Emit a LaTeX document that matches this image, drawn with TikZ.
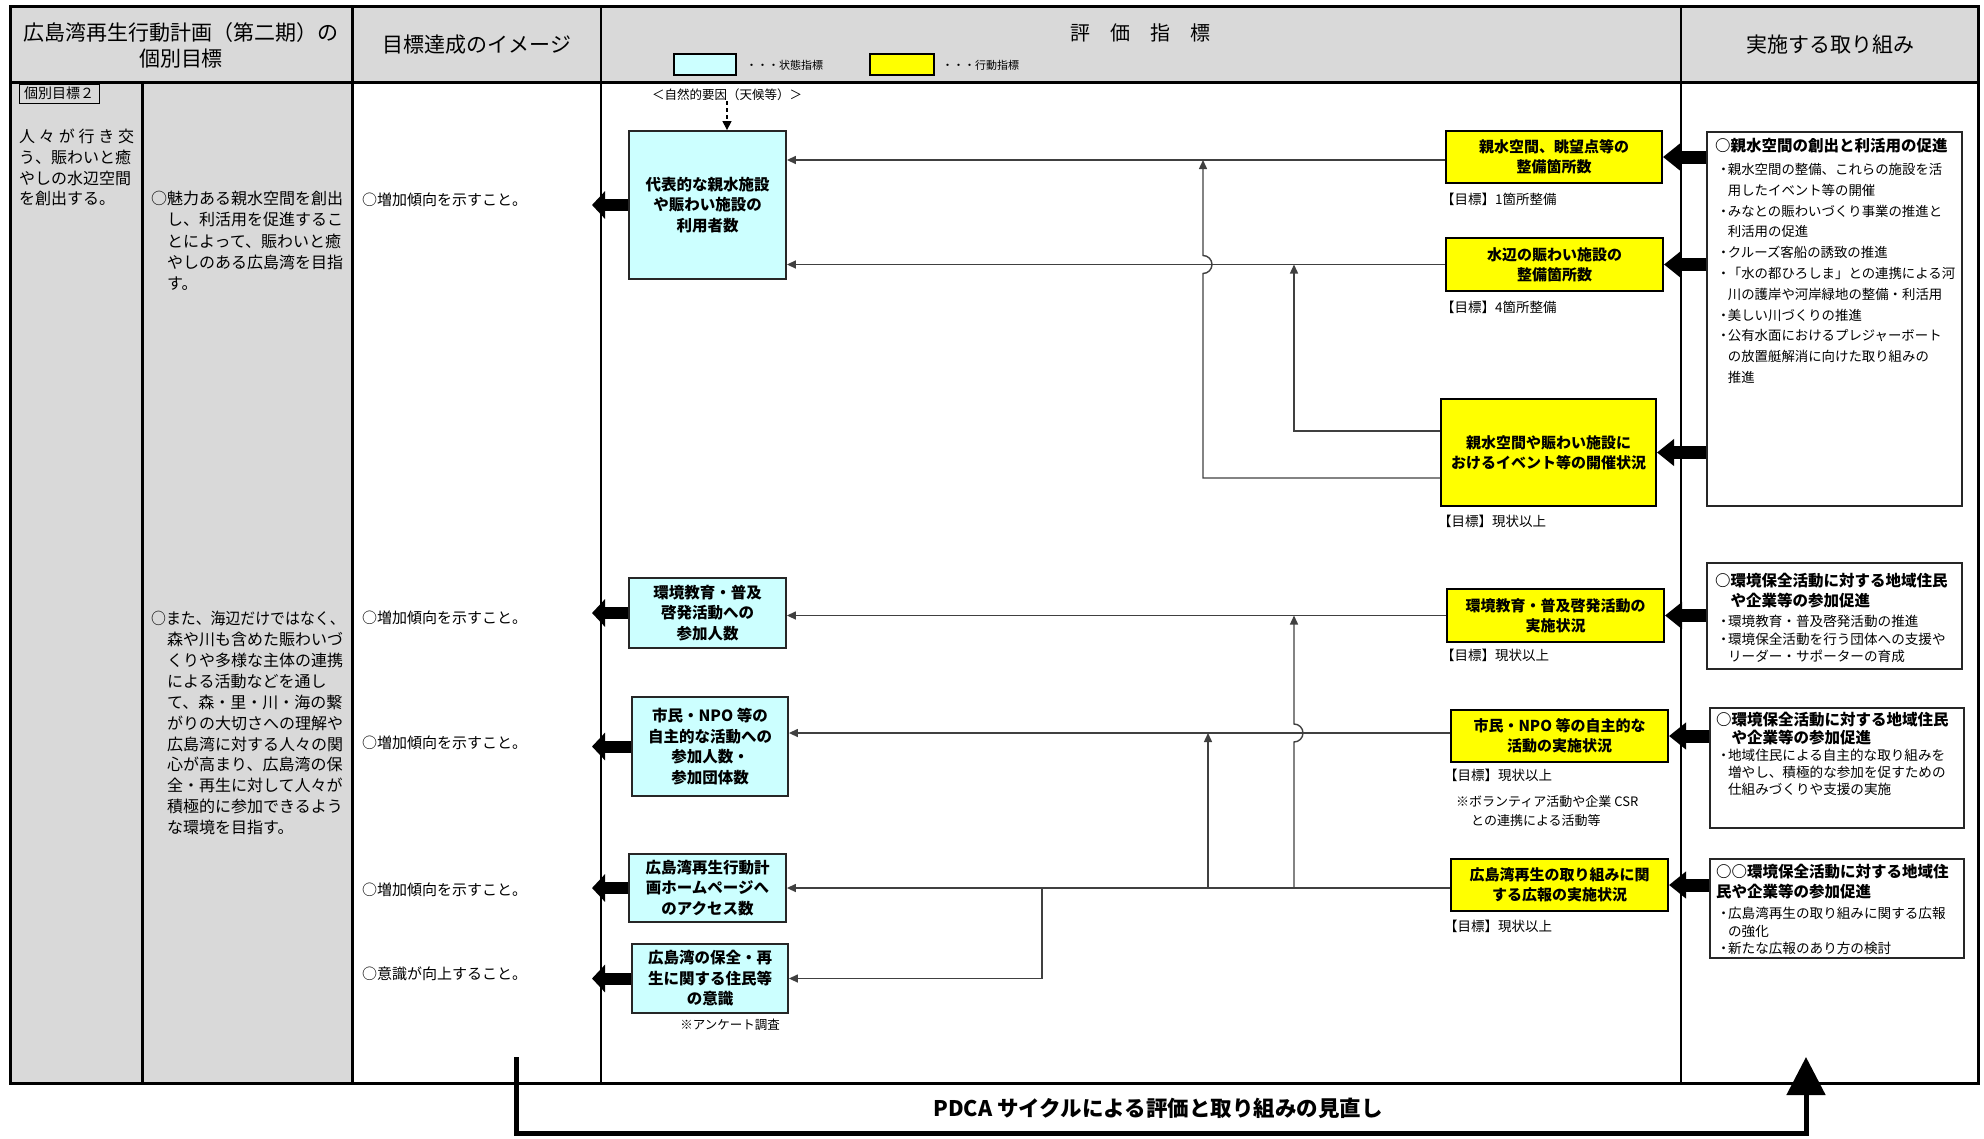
\documentclass[tikz,border=0pt]{standalone}
\usepackage{fontspec}
\usepackage{graphicx}
\setmainfont{Noto Sans CJK JP}
\usetikzlibrary{arrows.meta,calc}
\definecolor{hdrgray}{HTML}{D9D9D9}
\definecolor{cyanbox}{HTML}{CCFFFF}
\definecolor{yelbox}{HTML}{FFFF00}
\newcommand{\jfs}[2]{\fontsize{#1}{#2}\selectfont}
\newcommand{\bul}{\makebox[0.65em][c]{・}}
\newcommand{\ind}{\hspace*{0.65em}}
\begin{document}
\begin{tikzpicture}[x=1pt,y=-1pt,
  tline/.style={line width=2.5pt},
  cbox/.style={draw=black!85,line width=1.8pt,fill=cyanbox,align=center,inner sep=0pt,font=\bfseries\jfs{15.5}{20.5}},
  ybox/.style={draw=black,line width=2pt,fill=yelbox,align=center,inner sep=0pt,font=\bfseries\jfs{15}{20}},
  rbox/.style={draw=black!85,line width=1.5pt,fill=white,inner sep=0pt},
  hdr/.style={align=center,inner sep=0pt,font=\jfs{21}{26}},
  coltxt/.style={anchor=north west,align=left,inner sep=0pt,font=\jfs{16}{21}},
  imgtxt/.style={anchor=west,inner sep=0pt,font=\jfs{15}{18}},
  tgt/.style={anchor=west,inner sep=0pt,font=\jfs{13.5}{16}},
  rtitle/.style={anchor=north west,align=left,inner sep=0pt,font=\bfseries\jfs{15.5}{20}},
  rlist/.style={anchor=north west,align=left,inner sep=0pt,font=\jfs{13.6}{17.5}},
  conn/.style={draw=black!75,line width=1.4pt,-{Triangle[length=9pt,width=8pt]}},
  fat/.style={draw=black,line width=12pt,-{Triangle[length=13pt,width=27pt]}},
  fatR/.style={draw=black,line width=13pt,-{Triangle[length=17pt,width=26pt]}},
  pdca/.style={draw=black,line width=5pt,-{Triangle[length=38pt,width=38pt]}}
]
\useasboundingbox (0,0) rectangle (1984,1138);

% ---------- table ----------
\fill[hdrgray] (10,6) rectangle (1978,82.5);
\fill[hdrgray] (10,82.5) rectangle (352.5,1083);
\draw[tline] (10,82.5) -- (1978,82.5);
\draw[tline] (142.5,82.5) -- (142.5,1083);
\draw[tline] (352.5,6) -- (352.5,1083);
\draw[tline] (601,6) -- (601,1083);
\draw[tline] (1681,6) -- (1681,1083);
\draw[line width=3pt] (10,6) rectangle (1978,1083);

% ---------- headers ----------
\node[hdr] (h1) at (181,45) {広島湾再生行動計画（第二期）の\\個別目標};
\node[hdr] (h2) at (477,45) {目標達成のイメージ};
\node[hdr,font=\jfs{20}{24}] (h3) at (1140,33) {評　価　指　標};
\node[hdr] (h4) at (1830,45) {実施する取り組み};
\node[draw=black,line width=1.2pt,fill=cyanbox,minimum width=62pt,minimum height=21pt,inner sep=0pt] (legc) at (705,64.5) {};
\node[anchor=west,inner sep=0pt,font=\jfs{11}{13}] (legct) at (746,65) {・・・状態指標};
\node[draw=black,line width=1.2pt,fill=yelbox,minimum width=64pt,minimum height=21pt,inner sep=0pt] (legy) at (902,64.5) {};
\node[anchor=west,inner sep=0pt,font=\jfs{11}{13}] (legyt) at (942,65) {・・・行動指標};

% ---------- column 1 & 2 ----------
\node[draw=black,line width=1pt,fill=hdrgray,minimum width=80pt,minimum height=19pt,inner sep=0pt,font=\jfs{14}{16}] (goal) at (59,93.5) {個別目標２};
\node[coltxt,font=\jfs{16}{20.7}] (g1) at (19,129) {\hbox to 115pt{人\hfill 々\hfill が\hfill 行\hfill き\hfill 交}\\う、賑わいと癒\\やしの水辺空間\\を創出する。};
\node[coltxt,font=\jfs{16}{21.2}] (g2a) at (151,191) {○魅力ある親水空間を創出\\\hspace*{1em}し、利活用を促進するこ\\\hspace*{1em}とによって、賑わいと癒\\\hspace*{1em}やしのある広島湾を目指\\\hspace*{1em}す。};
\node[coltxt,font=\jfs{16}{20.9}] (g2b) at (151,611) {\scalebox{0.93}[1]{○また、海辺だけではなく、}\\\hspace*{1em}森や川も含めた賑わいづ\\\hspace*{1em}くりや多様な主体の連携\\\hspace*{1em}による活動などを通し\\\hspace*{1em}て、森・里・川・海の繋\\\hspace*{1em}がりの大切さへの理解や\\\hspace*{1em}広島湾に対する人々の関\\\hspace*{1em}心が高まり、広島湾の保\\\hspace*{1em}全・再生に対して人々が\\\hspace*{1em}積極的に参加できるよう\\\hspace*{1em}な環境を目指す。};

% ---------- column 3 ----------
\node[imgtxt] (i1) at (362,200) {○増加傾向を示すこと。};
\node[imgtxt] (i2) at (362,618) {○増加傾向を示すこと。};
\node[imgtxt] (i3) at (362,743) {○増加傾向を示すこと。};
\node[imgtxt] (i4) at (362,890) {○増加傾向を示すこと。};
\node[imgtxt] (i5) at (362,974) {○意識が向上すること。};

% ---------- state indicators ----------
\node[cbox,minimum width=157pt,minimum height=148pt] (b1) at (707.5,205) {代表的な親水施設\\や賑わい施設の\\利用者数};
\node[cbox,minimum width=157pt,minimum height=70pt] (b2) at (707.5,613) {環境教育・普及\\啓発活動への\\参加人数};
\node[cbox,minimum width=156pt,minimum height=99pt] (b3) at (710,746.5) {市民・NPO 等の\\自主的な活動への\\参加人数・\\参加団体数};
\node[cbox,minimum width=157pt,minimum height=68pt] (b4) at (707.5,888) {広島湾再生行動計\\画ホームページへ\\のアクセス数};
\node[cbox,minimum width=156pt,minimum height=69pt] (b5) at (710,978.5) {広島湾の保全・再\\生に関する住民等\\の意識};
\node[inner sep=0pt,font=\jfs{12.5}{15}] (nat) at (727,95) {＜自然的要因（天候等）＞};
\node[inner sep=0pt,font=\jfs{12.5}{15}] (svy) at (730,1025) {※アンケート調査};

% ---------- action indicators ----------
\node[ybox,minimum width=216pt,minimum height=52pt] (y1) at (1554,157) {親水空間、眺望点等の\\整備箇所数};
\node[ybox,minimum width=217pt,minimum height=53pt] (y2) at (1554.5,264.5) {水辺の賑わい施設の\\整備箇所数};
\node[ybox,minimum width=215pt,minimum height=107pt] (y3) at (1548.5,452.5) {親水空間や賑わい施設に\\おけるイベント等の開催状況};
\node[ybox,minimum width=217pt,minimum height=53pt] (y4) at (1555.5,615.5) {環境教育・普及啓発活動の\\実施状況};
\node[ybox,minimum width=217pt,minimum height=52pt] (y5) at (1559.5,736) {市民・NPO 等の自主的な\\活動の実施状況};
\node[ybox,minimum width=217pt,minimum height=52pt] (y6) at (1559.5,885) {広島湾再生の取り組みに関\\する広報の実施状況};
\node[tgt] (t1) at (1441,199) {【目標】1箇所整備};
\node[tgt] (t2) at (1441,307) {【目標】4箇所整備};
\node[tgt] (t3) at (1438,521) {【目標】現状以上};
\node[tgt] (t4) at (1441,655) {【目標】現状以上};
\node[tgt] (t5) at (1444,775) {【目標】現状以上};
\node[tgt] (t6) at (1444,926) {【目標】現状以上};
\node[anchor=west,inner sep=0pt,font=\jfs{13}{15}] (n1) at (1456,802) {※ボランティア活動や企業 CSR};
\node[anchor=west,inner sep=0pt,font=\jfs{13}{15}] (n2) at (1471,821) {との連携による活動等};

% ---------- measures ----------
\node[rbox,minimum width=255pt,minimum height=374pt] (r1) at (1834.5,319) {};
\node[rbox,minimum width=255pt,minimum height=106pt] (r2) at (1834.5,616) {};
\node[rbox,minimum width=254pt,minimum height=120pt] (r3) at (1837,768) {};
\node[rbox,minimum width=254pt,minimum height=99pt] (r4) at (1837,908.5) {};
\node[rtitle] (r1t) at (1715,138) {○親水空間の創出と利活用の促進};
\node[rlist,font=\jfs{13.4}{20.8}] (r1l) at (1719,163) {\bul 親水空間の整備、これらの施設を活\\\ind 用したイベント等の開催\\\bul みなとの賑わいづくり事業の推進と\\\ind 利活用の促進\\\bul クルーズ客船の誘致の推進\\\bul 「水の都ひろしま」との連携による河\\\ind 川の護岸や河岸緑地の整備・利活用\\\bul 美しい川づくりの推進\\\bul 公有水面におけるプレジャーボート\\\ind の放置艇解消に向けた取り組みの\\\ind 推進};
\node[rtitle] (r2t) at (1715,573) {○環境保全活動に対する地域住民\\\hspace*{1em}や企業等の参加促進};
\node[rlist] (r2l) at (1719,615) {\bul 環境教育・普及啓発活動の推進\\\bul 環境保全活動を行う団体への支援や\\\ind リーダー・サポーターの育成};
\node[rtitle,font=\bfseries\jfs{15.5}{17.5}] (r3t) at (1716,712) {○環境保全活動に対する地域住民\\\hspace*{1em}や企業等の参加促進};
\node[rlist,font=\jfs{13.6}{17}] (r3l) at (1719,749) {\bul 地域住民による自主的な取り組みを\\\ind 増やし、積極的な参加を促すための\\\ind 仕組みづくりや支援の実施};
\node[rtitle] (r4t) at (1716,864) {○○環境保全活動に対する地域住\\民や企業等の参加促進};
\node[rlist] (r4l) at (1719,907) {\bul 広島湾再生の取り組みに関する広報\\\ind の強化\\\bul 新たな広報のあり方の検討};

% ---------- thin connectors ----------
\coordinate (v0) at (1042,0);
\coordinate (v1) at (1203,0);
\coordinate (v2) at (1294,0);
\coordinate (v3) at (1208,0);
\coordinate (c1s) at ([yshift=-3pt]y1.west);
\coordinate (c5s) at ([yshift=3pt]y5.west);
\coordinate (c6s) at ([yshift=-3pt]y6.west);
\draw[conn] (c1s) -- (c1s -| b1.east);
\draw[conn] (y2.west) -- (y2.west -| b1.east);
\draw[conn] ([yshift=-25.5pt]y3.west) -| ($(v1 |- y2.west)+(0,9)$) arc[start angle=-90,end angle=90,radius=9pt] -- (v1 |- c1s);
\draw[conn] ([yshift=21.5pt]y3.west) -| (v2 |- y2.west);
\draw[conn] (y4.west) -- (y4.west -| b2.east);
\draw[conn] (c5s) -- (c5s -| b3.east);
\draw[conn] (c6s) -- (c6s -| b4.east);
\draw[conn] (c6s -| v0) |- (b5.east);
\draw[conn] (c6s -| v3) -- (c5s -| v3);
\draw[conn] (c6s -| v2) -- ($(c5s -| v2)+(0,9)$) arc[start angle=-90,end angle=90,radius=9pt] -- (y4.west -| v2);
\draw[draw=black,line width=1.2pt,dash pattern=on 4pt off 3pt,-{Triangle[length=9pt,width=9pt]}] (nat.south) -- (nat.south |- b1.north);

% ---------- fat arrows ----------
\coordinate (tipx) at (592,0);
\draw[fat] (b1.west) -- (b1.west -| tipx);
\draw[fat] (b2.west) -- (b2.west -| tipx);
\draw[fat] (b3.west) -- (b3.west -| tipx);
\draw[fat] (b4.west) -- (b4.west -| tipx);
\draw[fat] (b5.west) -- (b5.west -| tipx);
\draw[fatR] (r1.west |- y1.east) -- (y1.east);
\draw[fatR] (r1.west |- y2.east) -- (y2.east);
\draw[fatR] (r1.west |- y3.east) -- (y3.east);
\draw[fatR] (r2.west |- y4.east) -- (y4.east);
\draw[fatR] (r3.west |- y5.east) -- (y5.east);
\draw[fatR] (r4.west |- y6.east) -- (y6.east);

% ---------- PDCA ----------
\coordinate (pdcaL) at (516,1057);
\coordinate (pdcaB) at (1806,1133);
\coordinate (pdcaR) at (1806,1057);
\draw[pdca] (pdcaL) |- (pdcaB) -- (pdcaR);
\node[inner sep=0pt,font=\bfseries\jfs{21.5}{26}] (pdcat) at (1158,1108) {PDCA サイクルによる評価と取り組みの見直し};
\end{tikzpicture}
\end{document}
